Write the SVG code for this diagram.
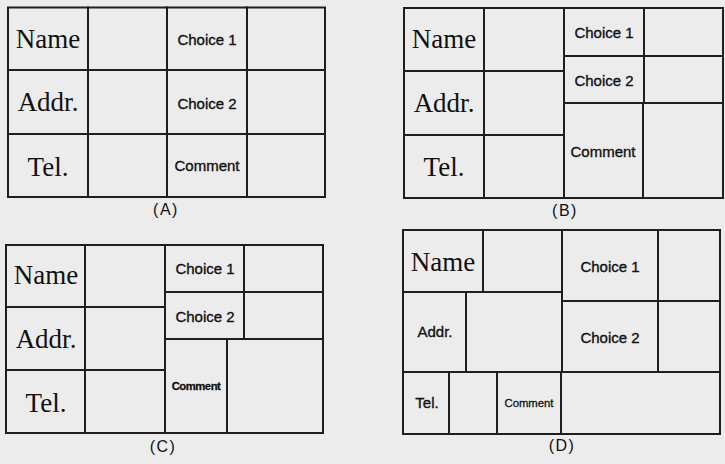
<svg xmlns="http://www.w3.org/2000/svg" width="725" height="464" viewBox="0 0 725 464">
<style>
  .cell { fill: none; stroke: #1e1e1e; stroke-width: 2; }
  .big { font-family: "Liberation Serif", "Times New Roman", serif; font-size: 27px; fill: #111; text-anchor: middle; }
  .ch { font-family: "Liberation Sans", Arial, sans-serif; font-size: 15px; fill: #111; stroke: #111; stroke-width: 0.35; text-anchor: middle; }
  .sm { font-family: "Liberation Sans", Arial, sans-serif; font-size: 11.3px; fill: #111; stroke: #111; stroke-width: 0.3; text-anchor: middle; }
  .cap { font-family: "Liberation Sans", Arial, sans-serif; font-size: 16px; letter-spacing: 1.5px; fill: #111; text-anchor: middle; }
</style>
<rect x="0" y="0" width="725" height="464" fill="#ececec"/>

<g id="panelA">
  <g id="A-name"><rect class="cell" x="8" y="7.5" width="80" height="62.5"/><text class="big" x="48" y="48">Name</text></g>
  <g id="A-name-f"><rect class="cell" x="88" y="7.5" width="79" height="62.5"/></g>
  <g id="A-ch1"><rect class="cell" x="167" y="7.5" width="80" height="62.5"/><text class="ch" x="207" y="45">Choice 1</text></g>
  <g id="A-ch1-f"><rect class="cell" x="247" y="7.5" width="78" height="62.5"/></g>
  <g id="A-addr"><rect class="cell" x="8" y="70" width="80" height="64"/><text class="big" x="48" y="111">Addr.</text></g>
  <g id="A-addr-f"><rect class="cell" x="88" y="70" width="79" height="64"/></g>
  <g id="A-ch2"><rect class="cell" x="167" y="70" width="80" height="64"/><text class="ch" x="207" y="109">Choice 2</text></g>
  <g id="A-ch2-f"><rect class="cell" x="247" y="70" width="78" height="64"/></g>
  <g id="A-tel"><rect class="cell" x="8" y="134" width="80" height="63"/><text class="big" x="48" y="176">Tel.</text></g>
  <g id="A-tel-f"><rect class="cell" x="88" y="134" width="79" height="63"/></g>
  <g id="A-com"><rect class="cell" x="167" y="134" width="80" height="63"/><text class="ch" x="207" y="171">Comment</text></g>
  <g id="A-com-f"><rect class="cell" x="247" y="134" width="78" height="63"/></g>
  <text class="cap" x="166" y="215">(A)</text>
</g>

<g id="panelB">
  <g id="B-name"><rect class="cell" x="404" y="8" width="80" height="63"/><text class="big" x="444" y="48">Name</text></g>
  <g id="B-name-f"><rect class="cell" x="484" y="8" width="80" height="63"/></g>
  <g id="B-addr"><rect class="cell" x="404" y="71" width="80" height="64"/><text class="big" x="444" y="112">Addr.</text></g>
  <g id="B-addr-f"><rect class="cell" x="484" y="71" width="80" height="64"/></g>
  <g id="B-tel"><rect class="cell" x="404" y="135" width="80" height="63"/><text class="big" x="444" y="176">Tel.</text></g>
  <g id="B-tel-f"><rect class="cell" x="484" y="135" width="80" height="63"/></g>
  <g id="B-ch1"><rect class="cell" x="564" y="8" width="80" height="48"/><text class="ch" x="604" y="38">Choice 1</text></g>
  <g id="B-ch1-f"><rect class="cell" x="644" y="8" width="79" height="48"/></g>
  <g id="B-ch2"><rect class="cell" x="564" y="56" width="80" height="47"/><text class="ch" x="604" y="86">Choice 2</text></g>
  <g id="B-ch2-f"><rect class="cell" x="644" y="56" width="79" height="47"/></g>
  <g id="B-com"><rect class="cell" x="564" y="103" width="79" height="95"/><text class="ch" x="603" y="157">Comment</text></g>
  <g id="B-com-f"><rect class="cell" x="643" y="103" width="80" height="95"/></g>
  <text class="cap" x="565" y="216">(B)</text>
</g>

<g id="panelC">
  <g id="C-name"><rect class="cell" x="6" y="245" width="79" height="62"/><text class="big" x="46" y="284">Name</text></g>
  <g id="C-name-f"><rect class="cell" x="85" y="245" width="80" height="62"/></g>
  <g id="C-addr"><rect class="cell" x="6" y="307" width="79" height="63"/><text class="big" x="46" y="348">Addr.</text></g>
  <g id="C-addr-f"><rect class="cell" x="85" y="307" width="80" height="63"/></g>
  <g id="C-tel"><rect class="cell" x="6" y="370" width="79" height="63"/><text class="big" x="46" y="412">Tel.</text></g>
  <g id="C-tel-f"><rect class="cell" x="85" y="370" width="80" height="63"/></g>
  <g id="C-ch1"><rect class="cell" x="165" y="245" width="79" height="47"/><text class="ch" x="205" y="274">Choice 1</text></g>
  <g id="C-ch1-f"><rect class="cell" x="244" y="245" width="79" height="47"/></g>
  <g id="C-ch2"><rect class="cell" x="165" y="292" width="79" height="47"/><text class="ch" x="205" y="322">Choice 2</text></g>
  <g id="C-ch2-f"><rect class="cell" x="244" y="292" width="79" height="47"/></g>
  <g id="C-com"><rect class="cell" x="165" y="339" width="62" height="94"/><text class="sm" x="196" y="390" font-weight="bold" letter-spacing="-0.5">Comment</text></g>
  <g id="C-com-f"><rect class="cell" x="227" y="339" width="96" height="94"/></g>
  <text class="cap" x="163" y="452">(C)</text>
</g>

<g id="panelD">
  <g id="D-name"><rect class="cell" x="403" y="230" width="80" height="62"/><text class="big" x="443" y="271">Name</text></g>
  <g id="D-name-f"><rect class="cell" x="483" y="230" width="79" height="62"/></g>
  <g id="D-addr"><rect class="cell" x="403" y="292" width="63" height="80"/><text class="ch" x="435" y="337">Addr.</text></g>
  <g id="D-addr-f"><rect class="cell" x="466" y="292" width="96" height="80"/></g>
  <g id="D-tel"><rect class="cell" x="403" y="372" width="46" height="62"/><text class="ch" x="427" y="408">Tel.</text></g>
  <g id="D-tel-f"><rect class="cell" x="449" y="372" width="48" height="62"/></g>
  <g id="D-com"><rect class="cell" x="497" y="372" width="64" height="62"/><text class="sm" x="529" y="407">Comment</text></g>
  <g id="D-com-f"><rect class="cell" x="561" y="372" width="159" height="62"/></g>
  <g id="D-ch1"><rect class="cell" x="562" y="230" width="96" height="71"/><text class="ch" x="610" y="272">Choice 1</text></g>
  <g id="D-ch1-f"><rect class="cell" x="658" y="230" width="62" height="71"/></g>
  <g id="D-ch2"><rect class="cell" x="562" y="301" width="96" height="71"/><text class="ch" x="610" y="343">Choice 2</text></g>
  <g id="D-ch2-f"><rect class="cell" x="658" y="301" width="62" height="71"/></g>
  <text class="cap" x="562" y="451">(D)</text>
</g>

<g id="connectors"></g>
</svg>
